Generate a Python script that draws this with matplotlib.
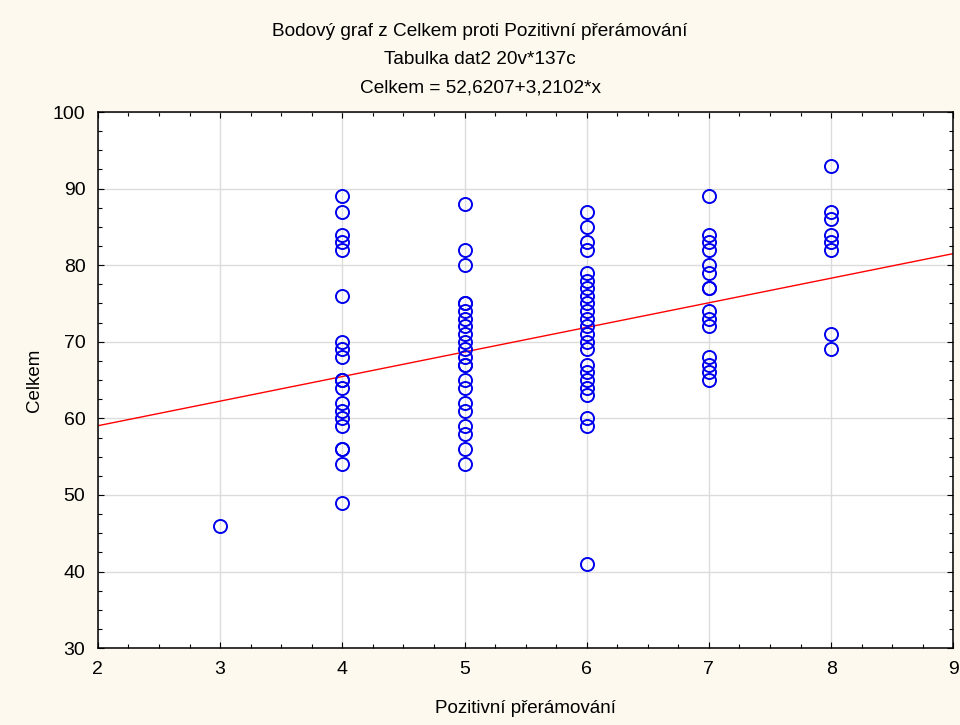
import numpy as np
import matplotlib.pyplot as plt
from matplotlib.ticker import MultipleLocator, AutoMinorLocator

plt.rcParams['font.family'] = ['Liberation Sans', 'DejaVu Sans']

# data (Pozitivni preramovani vs Celkem)
x3 = [46]
x4 = [89, 87, 84, 83, 82, 76, 70, 69, 68, 65, 65, 64, 62, 61, 60, 59, 56, 56, 54, 49]
x5 = [88, 82, 80, 75, 75, 74, 73, 72, 71, 70, 69, 68, 67, 67, 65, 64, 62, 61, 59, 58, 56, 54]
x6 = [87, 85, 83, 82, 79, 78, 77, 76, 75, 74, 73, 72, 71, 70, 69, 67, 66, 65, 64, 63, 60, 59, 41]
x7 = [89, 84, 83, 82, 80, 79, 77, 77, 74, 73, 72, 68, 67, 66, 65]
x8 = [93, 87, 86, 84, 83, 82, 71, 69]

groups = {3: x3, 4: x4, 5: x5, 6: x6, 7: x7, 8: x8}
xs = np.concatenate([[k] * len(v) for k, v in groups.items()])
ys = np.concatenate([v for v in groups.values()])

# regression from the title
intercept = 52.6207
slope = 3.2102

bg = '#fdf9ee'
fig = plt.figure(figsize=(9.6, 7.25), dpi=100, facecolor=bg)
ax = fig.add_axes([0.102, 0.106, 0.891, 0.7395])
ax.set_facecolor('white')

xl = np.array([2, 9])
ax.plot(xl, intercept + slope * xl, color='red', lw=1.0, zorder=2)
ax.plot(xs, ys, 'o', mfc='none', mec='#0000ee', ms=9.4, mew=1.4, zorder=3)

ax.set_xlim(2, 9)
ax.set_ylim(30, 100)
ax.xaxis.set_major_locator(MultipleLocator(1))
ax.yaxis.set_major_locator(MultipleLocator(10))
ax.xaxis.set_minor_locator(AutoMinorLocator(4))
ax.yaxis.set_minor_locator(AutoMinorLocator(4))
ax.tick_params(which='both', direction='in', length=3, width=0.8, labelsize=14,
               top=True, right=True, pad=9)
ax.tick_params(which='major', length=4)
ax.grid(True, which='major', color='#dcdcdc', lw=1.0, zorder=0)
ax.set_axisbelow(True)
for s in ax.spines.values():
    s.set_linewidth(1.1)

ax.set_xlabel('Pozitivní přerámování', fontsize=13.5, labelpad=16)
ax.set_ylabel('Celkem', fontsize=13.5, labelpad=7)

fig.text(0.5, 0.957, 'Bodový graf z Celkem proti Pozitivní přerámování',
         ha='center', va='center', fontsize=13.7)
fig.text(0.5, 0.918, 'Tabulka dat2 20v*137c', ha='center', va='center', fontsize=13.7)
fig.text(0.5, 0.879, 'Celkem = 52,6207+3,2102*x', ha='center', va='center', fontsize=13.7)

fig.savefig('out.png', dpi=100, facecolor=bg)
